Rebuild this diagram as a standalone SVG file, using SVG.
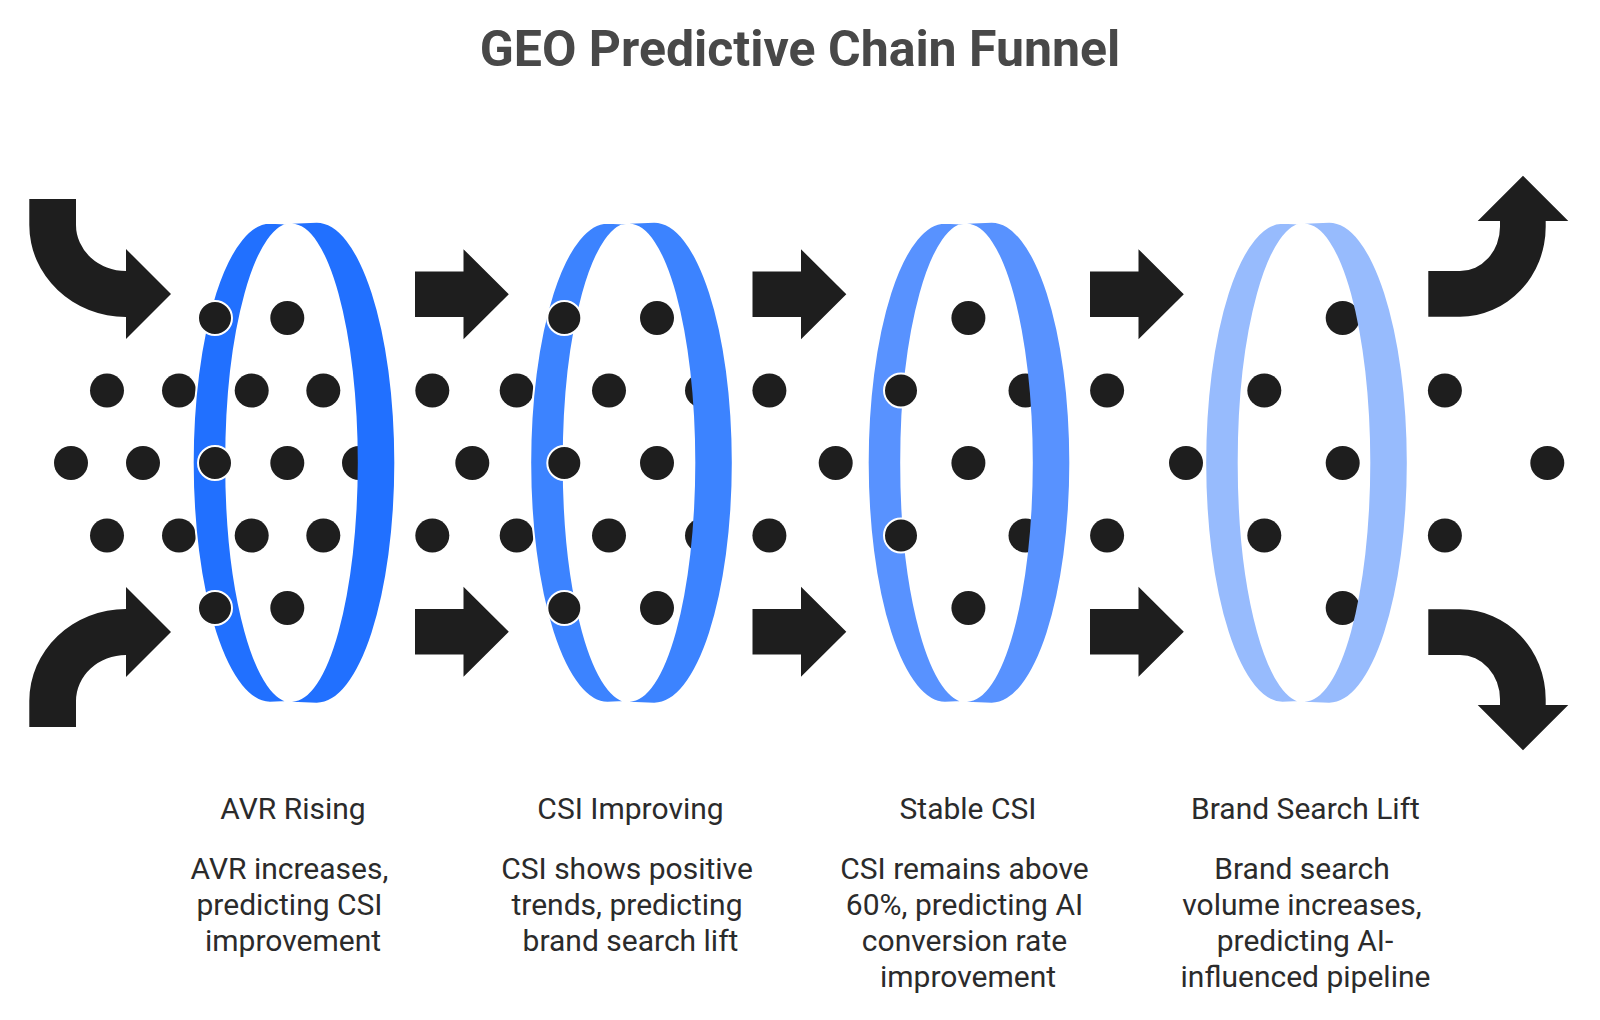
<svg xmlns="http://www.w3.org/2000/svg" xmlns:xlink="http://www.w3.org/1999/xlink" width="1600" height="1020" viewBox="0 0 1600 1020">
<style>
.bg{fill:#ffffff}
.dot{fill:#1e1e1e}
.dotf{fill:#1e1e1e;stroke:#ffffff;stroke-width:2}
.arrow{fill:#1e1e1e}
.cl{stroke:#ffffff;stroke-width:2}
.title{font-family:Roboto,"Liberation Sans",sans-serif;font-weight:700;font-size:50px;fill:#484848;text-anchor:middle}
.txt{font-family:Roboto,"Liberation Sans",sans-serif;font-size:30px;fill:#2b2b2b;text-anchor:middle}
</style>
<defs>
<path id="cresR" d="M 292 223.7 L 316.7 222.7 A 77.6 240 0 0 1 316.7 702.7 L 292 701.7 A 65.8 239 0 0 0 292 223.7 Z"/>
<path id="cresL" d="M 292 223.7 L 270 222.7 A 77.3 240 0 0 0 270 702.7 L 292 701.7 A 65.8 239 0 0 1 292 223.7 Z"/>
<path id="straight" d="M 415 271.5 L 463.5 271.5 L 463.5 249.2 L 508.8 294.2 L 463.5 339.2 L 463.5 317 L 415 317 Z"/>
<path id="curveL" d="M 29.3 199 L 76 199 L 76 225 A 50 46 0 0 0 126 271 L 126 249 L 171 294 L 126 339 L 126 317 A 96.7 92 0 0 1 29.3 225 Z"/>
<path id="curveR" d="M 1428.3 271 L 1460 271 A 40 44.3 0 0 0 1500 226.7 L 1500 221 L 1477.7 221 L 1523 175.7 L 1568.3 221 L 1545.7 221 L 1545.7 226.7 A 85.7 90 0 0 1 1460 316.7 L 1428.3 316.7 Z"/>
</defs>
<rect class="bg" x="0" y="0" width="1600" height="1020"/>
<text class="title" x="800" y="66">GEO Predictive Chain Funnel</text>

<g id="connectors">
<use href="#curveL" class="arrow"/>
<use href="#curveL" class="arrow" transform="translate(0,926) scale(1,-1)"/>
<use href="#straight" class="arrow"/>
<use href="#straight" class="arrow" transform="translate(0,926) scale(1,-1)"/>
<use href="#straight" class="arrow" transform="translate(337.5,0)"/>
<use href="#straight" class="arrow" transform="translate(337.5,926) scale(1,-1)"/>
<use href="#straight" class="arrow" transform="translate(675,0)"/>
<use href="#straight" class="arrow" transform="translate(675,926) scale(1,-1)"/>
<use href="#curveR" class="arrow"/>
<use href="#curveR" class="arrow" transform="translate(0,926) scale(1,-1)"/>
</g>

<g id="dots">
<circle class="dot" cx="107" cy="390.5" r="17"/>
<circle class="dot" cx="179" cy="390.5" r="17"/>
<circle class="dot" cx="251.7" cy="390.5" r="17"/>
<circle class="dot" cx="323.3" cy="390.5" r="17"/>
<circle class="dot" cx="107" cy="535.5" r="17"/>
<circle class="dot" cx="179" cy="535.5" r="17"/>
<circle class="dot" cx="251.7" cy="535.5" r="17"/>
<circle class="dot" cx="323.3" cy="535.5" r="17"/>
<circle class="dot" cx="71" cy="463" r="17"/>
<circle class="dot" cx="143" cy="463" r="17"/>
<circle class="dot" cx="287.3" cy="463" r="17"/>
<circle class="dot" cx="359" cy="463" r="17"/>
<circle class="dot" cx="287.3" cy="318" r="17"/>
<circle class="dot" cx="287.3" cy="608" r="17"/>

<circle class="dot" cx="432.3" cy="390.5" r="17"/>
<circle class="dot" cx="516.7" cy="390.5" r="17"/>
<circle class="dot" cx="609" cy="390.5" r="17"/>
<circle class="dot" cx="702" cy="390.5" r="17"/>
<circle class="dot" cx="432.3" cy="535.5" r="17"/>
<circle class="dot" cx="516.7" cy="535.5" r="17"/>
<circle class="dot" cx="609" cy="535.5" r="17"/>
<circle class="dot" cx="702" cy="535.5" r="17"/>
<circle class="dot" cx="472.3" cy="463" r="17"/>
<circle class="dot" cx="657" cy="463" r="17"/>
<circle class="dot" cx="657" cy="318" r="17"/>
<circle class="dot" cx="657" cy="608" r="17"/>

<circle class="dot" cx="769.4" cy="390.5" r="17"/>
<circle class="dot" cx="1025.5" cy="390.5" r="17"/>
<circle class="dot" cx="769.4" cy="535.5" r="17"/>
<circle class="dot" cx="1025.5" cy="535.5" r="17"/>
<circle class="dot" cx="835.7" cy="463" r="17"/>
<circle class="dot" cx="968.4" cy="463" r="17"/>
<circle class="dot" cx="968.4" cy="318" r="17"/>
<circle class="dot" cx="968.4" cy="608" r="17"/>

<circle class="dot" cx="1107.1" cy="390.5" r="17"/>
<circle class="dot" cx="1264.3" cy="390.5" r="17"/>
<circle class="dot" cx="1444.9" cy="390.5" r="17"/>
<circle class="dot" cx="1107.1" cy="535.5" r="17"/>
<circle class="dot" cx="1264.3" cy="535.5" r="17"/>
<circle class="dot" cx="1444.9" cy="535.5" r="17"/>
<circle class="dot" cx="1186" cy="463" r="17"/>
<circle class="dot" cx="1342.7" cy="463" r="17"/>
<circle class="dot" cx="1547.3" cy="463" r="17"/>
<circle class="dot" cx="1342.7" cy="318" r="17"/>
<circle class="dot" cx="1342.7" cy="608" r="17"/>
</g>

<g id="stage-1">
<use href="#cresR" fill="#2170ff"/>
<use href="#cresL" fill="#2170ff" class="cl"/>
<circle class="dotf" cx="215" cy="318" r="17"/>
<circle class="dotf" cx="215" cy="463" r="17"/>
<circle class="dotf" cx="215" cy="608" r="17"/>
<text class="txt" x="293" y="819">AVR Rising</text>
<text class="txt" x="289.5" y="879">AVR increases,</text>
<text class="txt" x="289.5" y="915">predicting CSI</text>
<text class="txt" x="293" y="951">improvement</text>
</g>

<g id="stage-2">
<use href="#cresR" fill="#3c83ff" transform="translate(337.5,0)"/>
<use href="#cresL" fill="#3c83ff" class="cl" transform="translate(337.5,0)"/>
<circle class="dotf" cx="564.3" cy="318" r="17"/>
<circle class="dotf" cx="564.3" cy="463" r="17"/>
<circle class="dotf" cx="564.3" cy="608" r="17"/>
<text class="txt" x="630.5" y="819">CSI Improving</text>
<text class="txt" x="627" y="879">CSI shows positive</text>
<text class="txt" x="627" y="915">trends, predicting</text>
<text class="txt" x="630.5" y="951">brand search lift</text>
</g>

<g id="stage-3">
<use href="#cresR" fill="#5892ff" transform="translate(675,0)"/>
<use href="#cresL" fill="#5892ff" class="cl" transform="translate(675,0)"/>
<circle class="dotf" cx="901" cy="390.5" r="17"/>
<circle class="dotf" cx="901" cy="535.5" r="17"/>
<text class="txt" x="968" y="819">Stable CSI</text>
<text class="txt" x="964.5" y="879">CSI remains above</text>
<text class="txt" x="964.5" y="915">60%, predicting AI</text>
<text class="txt" x="964.5" y="951">conversion rate</text>
<text class="txt" x="968" y="987">improvement</text>
</g>

<g id="stage-4">
<use href="#cresR" fill="#97bbfd" transform="translate(1012.5,0)"/>
<use href="#cresL" fill="#97bbfd" class="cl" transform="translate(1012.5,0)"/>
<text class="txt" x="1305.5" y="819">Brand Search Lift</text>
<text class="txt" x="1302" y="879">Brand search</text>
<text class="txt" x="1302" y="915">volume increases,</text>
<text class="txt" x="1305" y="951">predicting AI-</text>
<text class="txt" x="1305.5" y="987">influenced pipeline</text>
</g>
</svg>
